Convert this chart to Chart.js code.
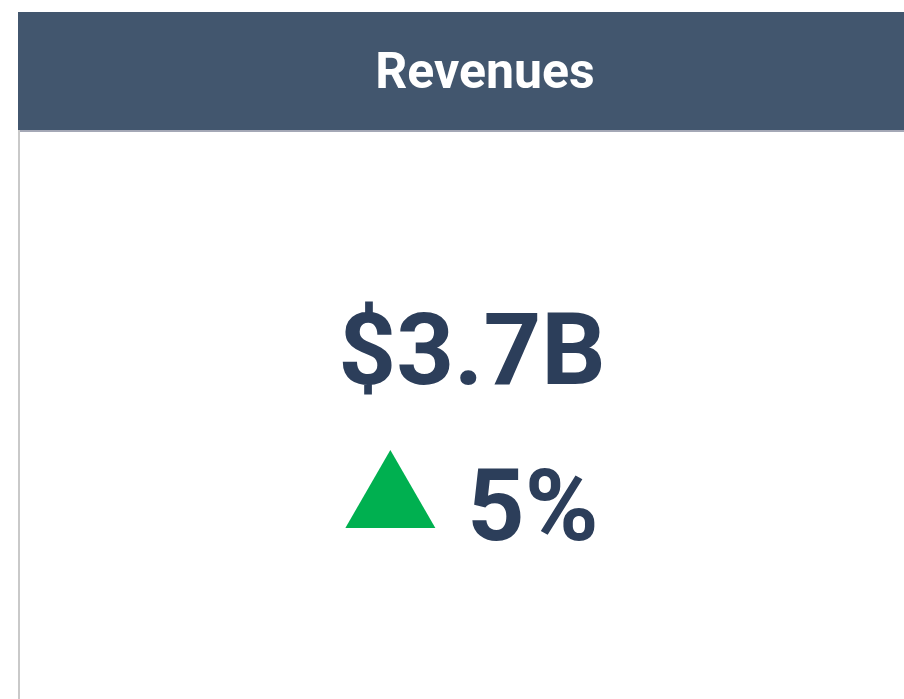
<!DOCTYPE html>
<html>
<head>
<meta charset="utf-8">
<script src="https://cdn.jsdelivr.net/npm/chart.js@4"></script>
<style>
  html, body { margin: 0; padding: 0; background: #ffffff; }
  #kpi { display: block; }
</style>
</head>
<body>
<canvas id="kpi" width="904" height="699"></canvas>
<script>
// KPI values
const TITLE = ['Revenues'];
const VALUE_LABELS = ['$3.7B'];
const CHANGE_PCT = [5];

const HEADER_COLOR = '#42566e';
const TEXT_COLOR = '#2c3e5a';
const UP_COLOR = '#00b050';
const DOWN_COLOR = '#e0393e';

const kpiPlugin = {
  id: 'kpiCard',
  beforeDraw(chart) {
    const ctx = chart.ctx;
    const w = chart.width, h = chart.height;
    ctx.save();

    // header band
    ctx.fillStyle = HEADER_COLOR;
    ctx.fillRect(18, 12, w - 18, 118);
    ctx.fillStyle = '#a4a8b6';
    ctx.fillRect(18, 130, w - 18, 2);
    // left border of the card
    ctx.fillStyle = '#c9c9c9';
    ctx.fillRect(18, 130, 2, h - 130);

    ctx.fillStyle = '#ffffff';
    ctx.font = 'bold 50px Roboto';
    ctx.textAlign = 'center';
    ctx.textBaseline = 'alphabetic';
    ctx.fillText(TITLE[0], 485, 88);

    const cx = 472;
    ctx.fillStyle = TEXT_COLOR;
    ctx.font = 'bold 101px Roboto';
    ctx.fillText(VALUE_LABELS[0], cx, 384);

    // change row: triangle + percent
    const pct = CHANGE_PCT[0];
    const pctText = Math.abs(pct) + '%';
    ctx.font = 'bold 100px Roboto';
    const tw = ctx.measureText(pctText).width;
    const triW = 90, gap = 32;
    const left = cx - (triW + gap + tw) / 2;
    const base = 528;
    ctx.fillStyle = pct >= 0 ? UP_COLOR : DOWN_COLOR;
    ctx.beginPath();
    if (pct >= 0) {
      ctx.moveTo(left, base);
      ctx.lineTo(left + triW, base);
      ctx.lineTo(left + triW / 2, base - 78);
    } else {
      ctx.moveTo(left, base - 78);
      ctx.lineTo(left + triW, base - 78);
      ctx.lineTo(left + triW / 2, base);
    }
    ctx.closePath();
    ctx.fill();

    ctx.fillStyle = TEXT_COLOR;
    ctx.textAlign = 'left';
    ctx.fillText(pctText, left + triW + gap, 540);
    ctx.restore();
  }
};

function draw() {
  new Chart(document.getElementById('kpi'), {
    type: 'scatter',
    data: { datasets: [] },
    options: {
      responsive: false,
      animation: false,
      events: [],
      plugins: { legend: { display: false }, tooltip: { enabled: false } },
      scales: { x: { display: false }, y: { display: false } }
    },
    plugins: [kpiPlugin]
  });
}

if (document.fonts && document.fonts.load) {
  Promise.all([
    document.fonts.load('bold 50px Roboto'),
    document.fonts.load('bold 100px Roboto')
  ]).then(draw, draw);
} else {
  draw();
}
</script>
</body>
</html>
